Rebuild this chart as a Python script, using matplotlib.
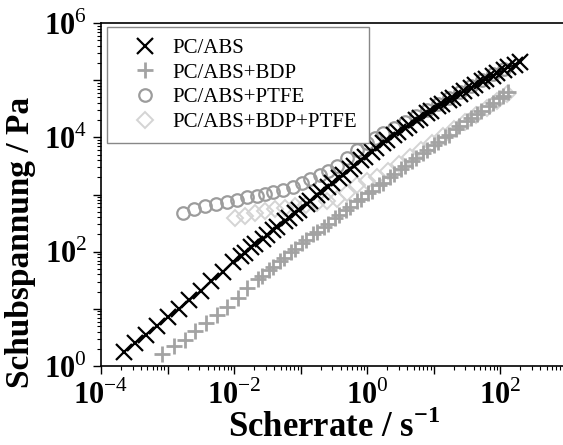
import numpy as np
import matplotlib
matplotlib.use("Agg")
import matplotlib.pyplot as plt
from matplotlib.ticker import FixedLocator, FuncFormatter, LogLocator, NullFormatter

plt.rcParams['font.family'] = ['Liberation Serif', 'DejaVu Serif']
plt.rcParams['mathtext.fontset'] = 'custom'
plt.rcParams['mathtext.rm'] = 'Liberation Serif'
plt.rcParams['mathtext.bf'] = 'Liberation Serif:bold'

# PC/ABS (black x), coarse points at low rate then paired points
abs_rate = [2.24e-4, 3.24e-4, 4.68e-4, 6.92e-4, 1.0e-3, 1.48e-3, 2.14e-3, 3.16e-3, 4.57e-3, 6.76e-3, 9.77e-3,
            1.26e-2, 1.45e-2, 1.82e-2, 2.09e-2, 2.69e-2, 3.09e-2, 3.89e-2, 4.47e-2, 5.75e-2, 6.61e-2,
            8.32e-2, 9.55e-2, 0.123, 0.141, 0.178, 0.204, 0.263, 0.302, 0.380, 0.437, 0.562, 0.646,
            0.813, 0.933, 1.20, 1.38, 1.74, 2.00, 2.57, 2.95, 3.72, 4.27, 5.50, 6.31, 7.94, 9.12,
            11.7, 13.5, 17.0, 19.5, 25.1, 28.8, 36.3, 41.7, 53.7, 61.7, 77.6, 89.1, 115, 132, 166, 200]
abs_stress = [1.78, 2.51, 3.55, 5.01, 7.08, 10.0, 14.1, 20.9, 30.2, 44.7, 66.1,
              85.1, 96.6, 120, 136, 170, 193, 240, 272, 347, 394,
              479, 543, 692, 785, 977, 1110, 1380, 1570, 1950, 2210, 2820, 3200,
              3980, 4520, 5620, 6380, 7940, 9020, 1.10e4, 1.22e4, 1.48e4, 1.64e4, 2.00e4, 2.21e4, 2.63e4, 2.92e4,
              3.47e4, 3.85e4, 4.47e4, 4.95e4, 5.75e4, 6.38e4, 7.41e4, 8.22e4, 9.55e4, 1.06e5, 1.20e5, 1.33e5,
              1.51e5, 1.68e5, 1.86e5, 2.04e5]

# PC/ABS+BDP (gray +)
bdp_rate = [8.32e-4, 1.26e-3, 1.82e-3, 2.57e-3, 3.80e-3, 5.50e-3, 7.76e-3, 1.15e-2, 1.58e-2,
            2.29e-2, 2.63e-2, 3.39e-2, 3.89e-2, 4.90e-2, 5.62e-2, 7.24e-2, 8.32e-2, 0.105, 0.120,
            0.155, 0.178, 0.224, 0.257, 0.331, 0.380, 0.479, 0.550, 0.708, 0.813, 1.02, 1.17,
            1.51, 1.74, 2.19, 2.51, 3.24, 3.72, 4.68, 5.37, 6.92, 7.94, 10.0, 11.5, 14.8, 17.0,
            21.4, 24.5, 31.6, 36.3, 45.7, 52.5, 67.6, 77.6, 97.7, 112, 132]
bdp_stress = [1.62, 2.24, 2.82, 4.07, 5.62, 7.76, 10.7, 15.5, 22.9,
              33.1, 37.2, 47.9, 53.7, 69.2, 77.6, 100, 112, 141, 158,
              200, 224, 275, 309, 389, 437, 537, 603, 759, 851, 1050, 1170,
              1450, 1620, 2000, 2240, 2750, 3090, 3800, 4270, 5250, 5890, 7240, 8130, 1.0e4, 1.12e4,
              1.38e4, 1.55e4, 1.91e4, 2.14e4, 2.57e4, 2.88e4, 3.55e4, 3.98e4, 4.79e4, 5.37e4, 6.17e4]

# PC/ABS+PTFE (gray circles)
ptfe_rate = [1.70e-3, 2.51e-3, 3.63e-3, 5.37e-3, 7.76e-3, 1.12e-2, 1.58e-2, 2.19e-2, 2.95e-2, 3.89e-2,
             5.50e-2, 7.59e-2, 0.105, 0.141, 0.195, 0.257, 0.355, 0.501, 0.708, 1.0, 1.32, 1.74,
             2.51, 3.72, 5.50, 7.94, 11.7, 17.0, 25.1, 36.3, 53.7, 77.6, 115]
ptfe_stress = [473, 550, 631, 684, 741, 813, 902, 955, 1020, 1100,
               1200, 1380, 1580, 1860, 2190, 2630, 3160, 4270, 6030, 7940, 9550, 1.17e4,
               1.48e4, 1.86e4, 2.40e4, 3.02e4, 3.89e4, 4.90e4, 6.31e4, 7.94e4, 1.0e5, 1.26e5, 1.58e5]

# PC/ABS+BDP+PTFE (light gray diamonds)
bdp_ptfe_rate = [1.03e-2, 1.48e-2, 2.07e-2, 2.95e-2, 4.14e-2, 5.89e-2, 8.26e-2, 0.120, 0.177, 0.251,
                 0.354, 0.501, 0.708, 1.0, 1.41, 2.04, 3.02, 4.37, 6.46, 9.33, 13.8, 20.0, 29.5,
                 42.7, 63.1, 91.2, 126]
bdp_ptfe_stress = [386, 427, 473, 513, 556, 589, 627, 661, 708, 759,
                   832, 1070, 1450, 1740, 2040, 2630, 3470, 4570, 6030, 7940, 1.05e4, 1.38e4, 1.86e4,
                   2.45e4, 3.31e4, 4.37e4, 5.75e4]

labels = ['PC/ABS', 'PC/ABS+BDP', 'PC/ABS+PTFE', 'PC/ABS+BDP+PTFE']

fig = plt.figure(figsize=(5.63, 4.45), dpi=100)
ax = fig.add_axes([0.1794, 0.1775, 0.827, 0.7708])

h4, = ax.plot(bdp_ptfe_rate, bdp_ptfe_stress, linestyle='none', marker='D', ms=8, mfc='none',
              mec='#d4d4d4', mew=1.4)
h3, = ax.plot(ptfe_rate, ptfe_stress, linestyle='none', marker='o', ms=9, mfc='none',
              mec='#9c9c9c', mew=1.6)
h2, = ax.plot(bdp_rate, bdp_stress, linestyle='none', marker='+', ms=11, color='#a3a3a3', mew=2)
ax.plot(abs_rate, abs_stress, '-', color='black', lw=1.2)
h1, = ax.plot(abs_rate, abs_stress, linestyle='none', marker='x', ms=11, color='black', mew=1.6)

ax.set_xscale('log')
ax.set_yscale('log')
ax.set_xlim(1e-4, 1e3)
ax.set_ylim(1, 1e6)

def fmt(v, pos):
    e = int(round(np.log10(v)))
    if e % 2:
        return ''
    return r'$\mathbf{10}^{\mathrm{%d}}$' % e

ax.xaxis.set_major_locator(FixedLocator([10.0 ** k for k in range(-4, 4)]))
ax.yaxis.set_major_locator(FixedLocator([10.0 ** k for k in range(0, 7)]))
ax.xaxis.set_major_formatter(FuncFormatter(fmt))
ax.yaxis.set_major_formatter(FuncFormatter(fmt))
ax.xaxis.set_minor_locator(LogLocator(base=10, subs=np.arange(2, 10), numticks=20))
ax.yaxis.set_minor_locator(LogLocator(base=10, subs=np.arange(2, 10), numticks=20))
ax.xaxis.set_minor_formatter(NullFormatter())
ax.yaxis.set_minor_formatter(NullFormatter())
ax.tick_params(which='major', direction='out', length=6, width=1, labelsize=22, pad=4)
ax.tick_params(which='minor', direction='out', length=3, width=0.8)
for s in ax.spines.values():
    s.set_linewidth(1.2)

ax.set_xlabel(r'Scherrate / s$^{\mathbf{-1}}$', fontsize=25, fontweight='bold', labelpad=0)
ax.set_ylabel('Schubspannung / Pa', fontsize=24, fontweight='bold')
ax.yaxis.set_label_coords(-0.14, 0.36)

leg = ax.legend([h1, h2, h3, h4], labels, loc='upper left', bbox_to_anchor=(0.013, 0.988),
                fontsize=15, frameon=True, fancybox=False, edgecolor='#888888', framealpha=1,
                borderpad=0.55, labelspacing=0.24, handletextpad=0.1, handlelength=2.5, borderaxespad=0)
leg.get_frame().set_linewidth(1.0)

fig.savefig('out.png', dpi=100)
